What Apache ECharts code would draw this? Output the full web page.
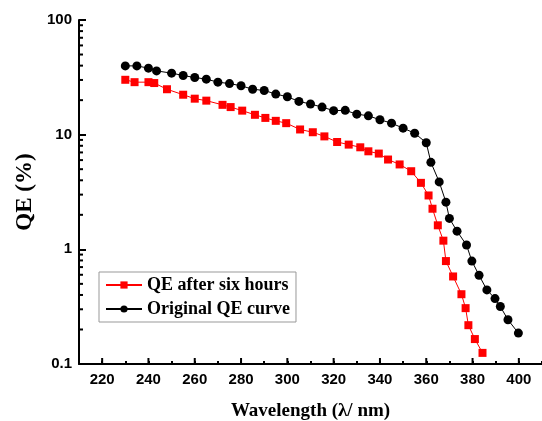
<!DOCTYPE html>
<html>
<head>
<meta charset="utf-8">
<script src="https://cdn.jsdelivr.net/npm/echarts@6/dist/echarts.min.js"></script>
<style>
html,body{margin:0;padding:0;background:#fff;}
#qe-chart{width:542px;height:421px;}
</style>
</head>
<body>
<div id="qe-chart"></div>
<script>
// QE after six hours (wavelength nm, QE %)
var sixHoursX = [230, 234, 240, 242.5, 248, 255, 260, 265, 272, 275.5, 280.5, 286, 290.5, 295, 299.5, 305.5, 311, 316, 321.5, 326.5, 331.5, 335, 339.5, 343.5, 348.5, 353.5, 357.7, 361, 362.7, 365, 367.4, 368.5, 371.6, 375.2, 377, 378.2, 381, 384.3];
var sixHoursY = [30.1, 28.7, 28.7, 28.2, 24.9, 22.3, 20.6, 19.8, 18.2, 17.4, 16.2, 14.9, 14.0, 13.2, 12.6, 11.1, 10.5, 9.66, 8.63, 8.19, 7.76, 7.16, 6.84, 6.07, 5.5, 4.8, 3.8, 2.95, 2.26, 1.62, 1.19, 0.79, 0.58, 0.406, 0.307, 0.218, 0.165, 0.125];
// original QE curve
var originalX = [230, 235, 240, 243.5, 250, 255, 260, 265, 270, 275, 280, 285, 290, 295, 300, 305, 310, 315, 320, 325, 330, 335, 340, 345, 350, 355, 360, 362, 365.6, 368.5, 370, 373.3, 377.4, 379.7, 382.8, 386.2, 389.7, 392, 395.3, 399.8];
var originalY = [39.8, 39.8, 38, 36, 34.4, 32.8, 31.5, 30.5, 28.7, 27.9, 26.7, 24.9, 24.3, 22.6, 21.4, 19.5, 18.5, 17.4, 16.2, 16.3, 15.1, 14.6, 13.5, 12.6, 11.4, 10.3, 8.5, 5.74, 3.87, 2.58, 1.86, 1.44, 1.09, 0.79, 0.594, 0.443, 0.372, 0.317, 0.243, 0.186];
// axis decorations
var xMajorTicks = [220, 240, 260, 280, 300, 320, 340, 360, 380, 400];
var yMinorTicks = [0.2, 0.3, 0.4, 0.5, 0.6, 0.7, 0.8, 0.9, 2, 3, 4, 5, 6, 7, 8, 9, 20, 30, 40, 50, 60, 70, 80, 90];

function pairs(xs, ys) {
	var out = [];
	for (var i = 0; i < xs.length; i++) out.push([xs[i], ys[i]]);
	return out;
}

var myChart = echarts.init(document.getElementById('qe-chart'));
var labelFont = {color: '#000', fontFamily: 'Liberation Sans', fontWeight: 'bold', fontSize: 15};

option = {
	animation: false,
	backgroundColor: '#fff',
	grid: {left: 79, right: 0, top: 20, bottom: 57, containLabel: false, outerBoundsMode: 'none'},
	legend: {
		data: ['QE after six hours', 'Original QE curve'],
		orient: 'vertical',
		left: 99,
		top: 272,
		borderColor: '#999',
		borderWidth: 1,
		borderRadius: 0,
		padding: [4, 6, 4, 6],
		itemGap: 6,
		itemWidth: 36,
		itemHeight: 9,
		textStyle: {color: '#000', fontFamily: 'Liberation Serif', fontWeight: 'bold', fontSize: 18}
	},
	xAxis: {
		type: 'value',
		min: 210,
		max: 410,
		interval: 10,
		name: 'Wavelength (λ/ nm)',
		nameLocation: 'middle',
		nameGap: 38,
		nameTextStyle: {color: '#000', fontFamily: 'Liberation Serif', fontWeight: 'bold', fontSize: 19},
		axisLine: {lineStyle: {color: '#000', width: 2}},
		axisTick: {inside: true, length: 3, lineStyle: {color: '#000', width: 2}},
		axisLabel: Object.assign({
			margin: 8,
			formatter: function(v) { return v % 20 === 0 ? String(v) : ''; }
		}, labelFont),
		splitLine: {show: false}
	},
	yAxis: {
		type: 'log',
		logBase: 10,
		min: 0.1,
		max: 100,
		name: 'QE (%)',
		nameLocation: 'middle',
		nameGap: 33,
		nameTextStyle: {color: '#000', fontFamily: 'Liberation Serif', fontWeight: 'bold', fontSize: 23},
		axisLine: {lineStyle: {color: '#000', width: 2}},
		axisTick: {inside: true, length: 7, lineStyle: {color: '#000', width: 2}},
		axisLabel: Object.assign({
			margin: 7,
			formatter: function(v) { return v < 1 ? '0.1' : String(Math.round(v)); }
		}, labelFont),
		splitLine: {show: false}
	},
	series: [{
		name: 'QE after six hours',
		type: 'line',
		data: pairs(sixHoursX, sixHoursY),
		symbol: 'rect',
		symbolSize: 8,
		color: '#ff0000',
		lineStyle: {width: 1, color: '#ff0000'},
		itemStyle: {color: '#ff0000'},
		z: 3
	}, {
		name: 'Original QE curve',
		type: 'line',
		data: pairs(originalX, originalY),
		symbol: 'circle',
		symbolSize: 9,
		color: '#000',
		lineStyle: {width: 1, color: '#000'},
		itemStyle: {color: '#000'},
		z: 4
	}, {
		// long x ticks every 20 nm
		type: 'custom',
		silent: true,
		clip: false,
		data: xMajorTicks.map(function(v) { return [v, 0.1]; }),
		renderItem: function(params, api) {
			var p = api.coord([api.value(0), api.value(1)]);
			return {type: 'line', shape: {x1: p[0], y1: p[1], x2: p[0], y2: p[1] - 6}, style: {stroke: '#000', lineWidth: 2}};
		}
	}, {
		// minor log ticks on y
		type: 'custom',
		silent: true,
		clip: false,
		data: yMinorTicks.map(function(v) { return [210, v]; }),
		renderItem: function(params, api) {
			var p = api.coord([api.value(0), api.value(1)]);
			return {type: 'line', shape: {x1: p[0], y1: p[1], x2: p[0] + 4, y2: p[1]}, style: {stroke: '#000', lineWidth: 2}};
		}
	}]
};
myChart.setOption(option);
</script>
</body>
</html>
